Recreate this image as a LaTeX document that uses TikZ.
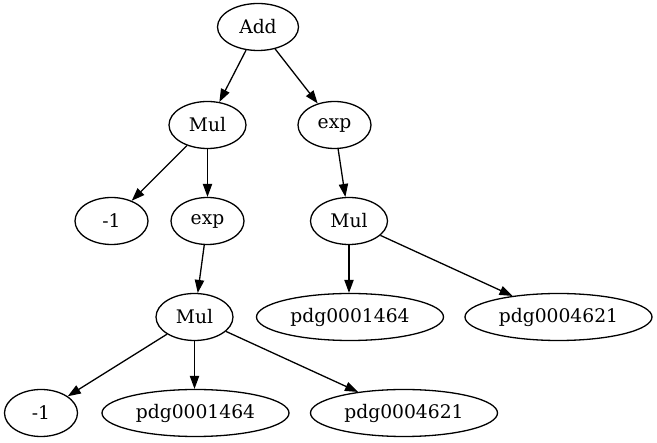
\documentclass[tikz,border=0pt]{standalone}
\usepackage{fontspec}
\setmainfont{DejaVu Serif}
\usetikzlibrary{shapes.geometric,arrows.meta}
\begin{document}
\begin{tikzpicture}[x=1pt,y=-1pt,
  nd/.style={draw,ellipse,line width=1.3pt,inner sep=0pt,minimum height=47pt,font=\fontsize{18.7}{20}\selectfont},
  sm/.style={nd,minimum width=73pt},
  md/.style={nd,minimum width=77pt},
  lg/.style={nd,minimum width=187pt},
  edge/.style={line width=1.3pt,-{Triangle[length=13pt,width=9.3pt]}}]
\useasboundingbox (0,0) rectangle (657,443);
\node[nd,minimum width=81pt] (add) at (258,27) {Add};
\node[md] (mul1) at (207.5,125) {Mul};
\node[sm] (exp1) at (334.5,125) {exp};
\node[sm] (m1a) at (111.5,221) {-1};
\node[sm] (exp2) at (207.5,221) {exp};
\node[md] (mul2) at (349,221) {Mul};
\node[md] (mul3) at (194.5,317) {Mul};
\node[lg] (pa) at (350,317) {pdg0001464};
\node[lg] (pb) at (558.5,317) {pdg0004621};
\node[sm] (m1b) at (41,413) {-1};
\node[lg] (pc) at (195.5,413) {pdg0001464};
\node[lg] (pd) at (404,413) {pdg0004621};
\draw[edge] (add) -- (mul1);
\draw[edge] (add) -- (exp1);
\draw[edge] (mul1) -- (m1a);
\draw[edge] (mul1.south -| 207.5,0) -- (exp2);
\draw[edge] (exp1) -- (mul2);
\draw[edge] (exp2) -- (mul3);
\draw[edge] (mul2) -- (pa.north -| mul2);
\draw[edge] (mul2) -- (pb);
\draw[edge] (mul3) -- (m1b);
\draw[edge] (mul3) -- (pc.north -| mul3);
\draw[edge] (mul3) -- (pd);
\end{tikzpicture}
\end{document}
